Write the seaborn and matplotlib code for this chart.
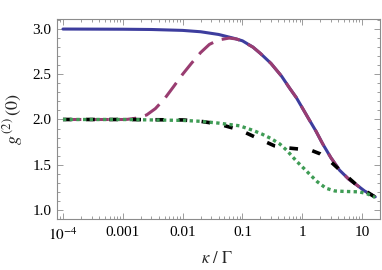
import numpy as np
import pandas as pd
import seaborn as sns
import matplotlib.pyplot as plt
from matplotlib.ticker import LogLocator, MultipleLocator, FixedLocator, FixedFormatter, NullFormatter

# values
kappa_blue = [1e-4, 1e-3, 0.003, 0.01, 0.02, 0.04, 0.07, 0.1, 0.15, 0.2, 0.3, 0.45, 0.61, 0.8, 1.0,
              1.3, 1.7, 2.2, 3.0, 4.2, 6.0, 8.0, 11.0, 16.6]
g_blue = [3.0, 2.998, 2.995, 2.985, 2.97, 2.94, 2.90, 2.87, 2.80, 2.73, 2.62, 2.48, 2.35, 2.24, 2.13,
          2.0, 1.87, 1.73, 1.58, 1.44, 1.34, 1.28, 1.21, 1.145]

kappa_purple = [1e-4, 1e-3, 0.0012, 0.0017, 0.0025, 0.0035, 0.005, 0.007, 0.01, 0.014, 0.02, 0.028, 0.04,
                0.06, 0.08, 0.1, 0.15, 0.2, 0.3, 0.45, 0.61, 0.8, 1.0, 1.3, 1.7, 2.2, 3.0, 4.2, 6.0, 8.0,
                11.0, 16.6]
g_purple = [2.0, 2.0, 2.002, 2.015, 2.05, 2.12, 2.23, 2.36, 2.5, 2.62, 2.74, 2.83, 2.88,
            2.9, 2.89, 2.865, 2.80, 2.73, 2.62, 2.48, 2.35, 2.24, 2.13, 2.0, 1.87, 1.73, 1.58, 1.44, 1.34, 1.28,
            1.21, 1.145]

kappa_black = [1e-4, 1e-3, 0.01, 0.02, 0.04, 0.09, 0.17, 0.34, 0.5, 0.7, 1.4, 2.0, 2.7, 4.8, 8.3, 16.6]
g_black = [2.0, 2.0, 1.995, 1.98, 1.95, 1.885, 1.80, 1.71, 1.69, 1.68, 1.66, 1.62, 1.56, 1.41, 1.27, 1.14]

kappa_green = [1e-4, 1e-3, 0.01, 0.02, 0.04, 0.09, 0.15, 0.21, 0.3, 0.42, 0.55, 0.8, 1.1, 1.4, 1.8, 2.5,
               3.5, 5.0, 9.0, 12.0, 16.6]
g_green = [2.0, 2.0, 1.99, 1.98, 1.96, 1.93, 1.88, 1.84, 1.79, 1.73, 1.66, 1.54, 1.45, 1.38, 1.31, 1.24,
           1.21, 1.205, 1.2, 1.18, 1.14]

xtick_vals = [1e-4, 1e-3, 1e-2, 1e-1, 1, 10]
xtick_labels = ['$10^{-4}$', '0.001', '0.01', '0.1', '1', '10']

sns.set_style('ticks')
plt.rcParams['font.family'] = ['Liberation Serif', 'DejaVu Serif']
plt.rcParams['mathtext.fontset'] = 'stix'
plt.rcParams['font.size'] = 11

fig = plt.figure(figsize=(3.82, 2.70), dpi=100)
ax = fig.add_axes([57 / 382, 51 / 270, 323 / 382, 200 / 270])

curves = [
    (kappa_blue, g_blue, '#3d3d9e', 2.2, '-'),
    (kappa_purple, g_purple, '#993d71', 2.2, (0, (6, 3))),
    (kappa_black, g_black, 'black', 2.6, (0, (2.4, 4.0))),
    (kappa_green, g_green, '#3f9c55', 2.4, (0, (1.0, 1.0))),
]
for k, g, col, lw, ls in curves:
    df = pd.DataFrame({'kappa': k, 'g2': g})
    sns.lineplot(data=df, x='kappa', y='g2', ax=ax, color=col, lw=lw,
                 linestyle=ls, sort=False, dash_capstyle='butt')

ax.set_xscale('log')
ax.set_xlim(10 ** -4.1, 10 ** 1.3)
ax.set_ylim(0.9, 3.111)

ax.xaxis.set_major_locator(FixedLocator(xtick_vals))
ax.xaxis.set_major_formatter(FixedFormatter(xtick_labels))
ax.xaxis.set_minor_locator(LogLocator(base=10, subs=np.arange(2, 10)))
ax.xaxis.set_minor_formatter(NullFormatter())
ax.yaxis.set_major_locator(MultipleLocator(0.5))
ax.yaxis.set_minor_locator(MultipleLocator(0.1))
ax.yaxis.set_major_formatter(plt.FuncFormatter(lambda v, p: f'{v:.1f}'))

frame = '#8c8c8c'
for s in ax.spines.values():
    s.set_color(frame)
    s.set_linewidth(0.8)
ax.tick_params(which='both', direction='in', top=True, right=True, color=frame, width=0.6,
               labelsize=11, labelcolor='black')
ax.tick_params(which='major', length=4)
ax.tick_params(which='minor', length=2)
ax.tick_params(axis='y', pad=4)
ax.tick_params(axis='x', pad=5)

ax.set_xlabel(r'$\kappa\ /\ \Gamma$', fontsize=12)
ax.set_ylabel(r'$g^{\,(2)}\,(0)$', fontsize=13)
ax.xaxis.set_label_coords(0.495, -0.16)
ax.yaxis.set_label_coords(-0.10, 0.5)

fig.savefig('out.png', dpi=100)
